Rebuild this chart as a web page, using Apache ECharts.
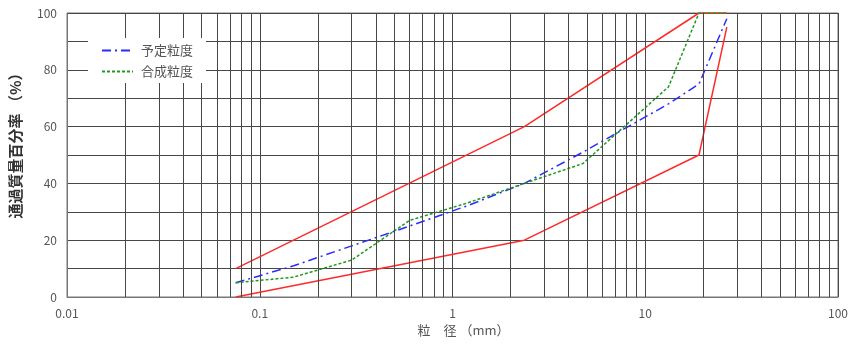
<!DOCTYPE html>
<html>
<head>
<meta charset="utf-8">
<script src="https://cdn.jsdelivr.net/npm/echarts@6/dist/echarts.min.js"></script>
<style>
  html, body { margin: 0; padding: 0; background: #fff; }
  #chart { width: 851px; height: 345px; }
</style>
</head>
<body>
<div id="chart"></div>
<script>
// Sieve sizes (mm) and passing percentages
const sieveSizes = [0.075, 0.15, 0.3, 0.6, 1.18, 2.36, 4.75, 13.2, 19, 26.5];
const plannedGrading = [5, 11, 18, 25, 32, 40, 51, 68, 75, 98];
const combinedGrading = [5, 7, 13, 27, 33, 40, 47, 74, 100, 100];

// Specification band
const limitSizes = [0.075, 2.36, 19, 26.5];
const upperLimit = [10, 60, 100, 100];
const lowerLimit = [0, 20, 50, 95];

// Intermediate log gridlines (2..9 of each decade)
const minorGrid = [
  0.02, 0.03, 0.04, 0.05, 0.06, 0.07, 0.08, 0.09,
  0.2, 0.3, 0.4, 0.5, 0.6, 0.7, 0.8, 0.9,
  2, 3, 4, 5, 6, 7, 8, 9,
  20, 30, 40, 50, 60, 70, 80, 90
];
const xTicks = ['0.01', '0.1', '1', '10', '100'];

const legendNames = ['予定粒度', '合成粒度'];
const fontJP = '"Noto Sans CJK JP", "Noto Sans", sans-serif';
const gridColor = '#474747';

const pair = (xs, ys) => xs.map((x, i) => [x, ys[i]]);

const chart = echarts.init(document.getElementById('chart'), null, { renderer: 'canvas' });
chart.setOption({
  animation: false,
  backgroundColor: '#fff',
  textStyle: { fontFamily: fontJP },
  grid: {
    left: 67, right: 13, top: 13, bottom: 48,
    show: true, borderColor: '#777', borderWidth: 1
  },
  legend: {
    data: legendNames,
    orient: 'vertical',
    left: 88, top: 38,
    padding: [6, 13, 5, 13],
    itemGap: 8,
    itemWidth: 31, itemHeight: 10,
    backgroundColor: '#fff',
    itemStyle: { opacity: 0 },
    textStyle: { color: '#555', fontSize: 13, fontFamily: fontJP, padding: [0, 0, 0, 3] },
    z: 10
  },
  xAxis: {
    type: 'log',
    logBase: 10,
    min: 0.01, max: 100,
    name: '粒　径 （mm）',
    nameLocation: 'middle',
    nameGap: 26,
    nameTextStyle: { color: '#555', fontSize: 13, fontFamily: fontJP, padding: [0, 0, 0, 22] },
    axisLine: { show: true, lineStyle: { color: '#777' } },
    axisTick: { show: false },
    axisLabel: {
      color: '#555', fontSize: 12, margin: 10,
      formatter: v => {
        const s = xTicks.find(t => Math.abs(parseFloat(t) - v) < v * 1e-6);
        return s || '';
      }
    },
    splitLine: { show: true, lineStyle: { color: gridColor, width: 1 } }
  },
  yAxis: {
    type: 'value',
    min: 0, max: 100, interval: 10,
    name: '通過質量百分率 （%）',
    nameLocation: 'middle',
    nameRotate: 90,
    nameGap: 44,
    nameTextStyle: { color: '#333', fontSize: 15, fontWeight: 'bold', fontFamily: fontJP, padding: [0, 0, 0, 26] },
    axisLine: { show: true, lineStyle: { color: '#777' } },
    axisTick: { show: false },
    axisLabel: {
      color: '#555', fontSize: 12, margin: 10,
      formatter: v => (v % 20 === 0 ? String(v) : '')
    },
    splitLine: { show: true, lineStyle: { color: gridColor, width: 1 } }
  },
  series: [
    {
      name: 'grid',
      type: 'line',
      data: [],
      silent: true,
      z: 1,
      markLine: {
        silent: true,
        symbol: 'none',
        label: { show: false },
        animation: false,
        lineStyle: { color: gridColor, width: 1, type: 'solid' },
        data: minorGrid.map(v => ({ xAxis: v }))
      }
    },
    {
      name: 'upper',
      type: 'line',
      data: pair(limitSizes, upperLimit),
      showSymbol: false, symbol: 'none',
      lineStyle: { color: '#ff2a2a', width: 1.5 },
      z: 3
    },
    {
      name: 'lower',
      type: 'line',
      data: pair(limitSizes, lowerLimit),
      showSymbol: false, symbol: 'none',
      lineStyle: { color: '#ff2a2a', width: 1.5 },
      z: 3
    },
    {
      name: legendNames[0],
      type: 'line',
      data: pair(sieveSizes, plannedGrading),
      showSymbol: false, symbol: 'none',
      itemStyle: { color: '#2b2bff' },
      lineStyle: { color: '#2b2bff', width: 1.5, type: [9, 4, 2, 4] },
      z: 4
    },
    {
      name: legendNames[1],
      type: 'line',
      data: pair(sieveSizes, combinedGrading),
      showSymbol: false, symbol: 'none',
      itemStyle: { color: '#1e9a1e' },
      lineStyle: { color: '#1e9a1e', width: 1.5, type: [3, 2] },
      z: 4
    }
  ]
});
</script>
</body>
</html>
